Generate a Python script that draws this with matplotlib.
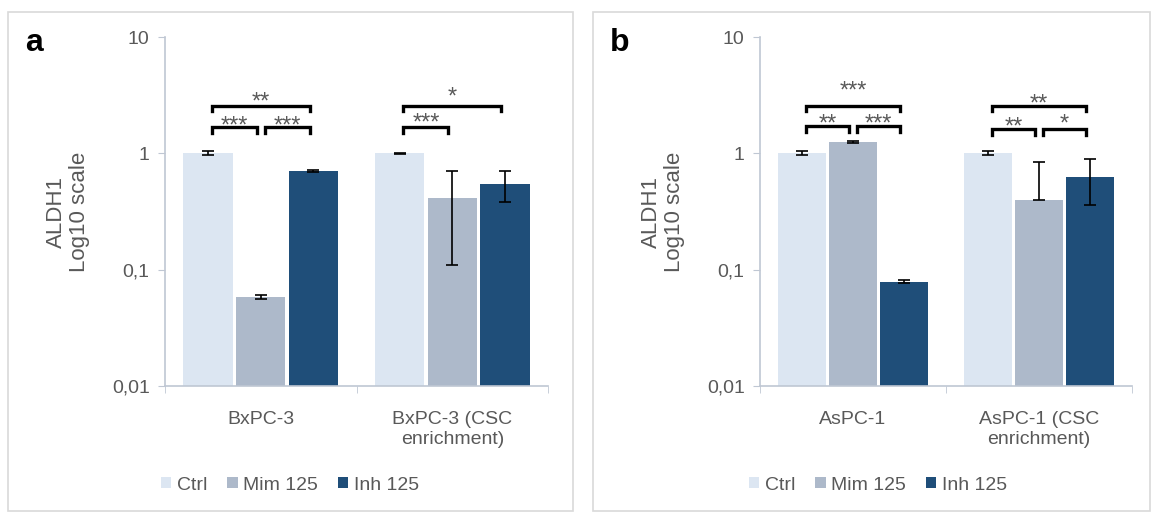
import numpy as np
import matplotlib
matplotlib.use("Agg")
import matplotlib.pyplot as plt
from matplotlib.patches import Patch, Rectangle
from matplotlib.ticker import NullLocator
from matplotlib.textpath import TextPath
from matplotlib.font_manager import FontProperties

plt.rcParams['font.family'] = ['Liberation Sans', 'DejaVu Sans']

# data
series = ["Ctrl", "Mim 125", "Inh 125"]
groups_a = ["BxPC-3", "BxPC-3 (CSC\nenrichment)"]
groups_b = ["AsPC-1", "AsPC-1 (CSC\nenrichment)"]

a_ctrl = [1.0, 1.0]
a_mim = [0.058, 0.41]
a_inh = [0.70, 0.54]
a_ctrl_err = [0.04, 0.005]
a_mim_err = [0.002, 0.30]
a_inh_err = [0.015, 0.16]

b_ctrl = [1.0, 1.0]
b_mim = [1.25, 0.40]
b_inh = [0.079, 0.63]
b_ctrl_err = [0.04, 0.04]
b_mim_err_lo = [0.02, 0.0]
b_mim_err_hi = [0.02, 0.45]
b_inh_err = [0.002, 0.27]

# significance: (group, bar i, bar j, label)
sig_a = [(0, 0, 1, "***"), (0, 1, 2, "***"), (0, 0, 2, "**"),
         (1, 0, 1, "***"), (1, 0, 2, "*")]
sig_b = [(0, 0, 1, "**"), (0, 1, 2, "***"), (0, 0, 2, "***"),
         (1, 0, 1, "**"), (1, 1, 2, "*"), (1, 0, 2, "**")]

# bracket layout (height in data units, star gap in px)
br_a_y = [1.70, 1.70, 2.54, 1.70, 2.54]
br_a_gap = [0, 0, 4, 3, 9]
br_b_y = [1.73, 1.73, 2.55, 1.62, 1.62, 2.54]
br_b_gap = [2, 2, 15, 2, 5, 2]

colors = ['#DCE6F2', '#ADB9CA', '#1F4E79']
txt = '#595959'
spine = '#BFC7D3'
W, H = 1153, 515
PX_DEC = 116.33  # px per decade
STAR_FS = 17

# where the asterisk glyph starts above the baseline, in em
star_ymin = TextPath((0, 0), "*", size=1,
                     prop=FontProperties(family='Liberation Sans')).get_extents().y0

fig = plt.figure(figsize=(W / 100, H / 100), dpi=100)

# panel frames
for x0, x1 in [(8, 573), (593, 1150)]:
    fig.patches.append(Rectangle((x0 / W, 1 - 511 / H), (x1 - x0) / W, (511 - 12) / H,
                                 transform=fig.transFigure, fill=False,
                                 edgecolor='#D9D9D9', linewidth=1.2))

pitch = 0.275
bw = 0.257
offs = [-pitch, 0, pitch]


def panel(ax, groups, vals, errs, sig, br_y, br_gap):
    x = np.arange(len(groups))
    for k in range(3):
        ax.bar(x + offs[k], vals[k], bw, color=colors[k], zorder=2)
        ax.errorbar(x + offs[k], vals[k], yerr=errs[k], fmt='none', ecolor='black',
                    elinewidth=1.2, capsize=4, capthick=1.2, zorder=3)
    ax.set_yscale('log')
    ax.set_ylim(0.01, 10)
    ax.set_xlim(-0.5, len(groups) - 0.5)
    ax.set_yticks([0.01, 0.1, 1, 10])
    ax.set_yticklabels(["0,01", "0,1", "1", "10"])
    ax.yaxis.set_minor_locator(NullLocator())
    ax.set_xticks(x)
    ax.set_xticklabels(groups, linespacing=1.25)
    ax.set_xticks(np.arange(len(groups) + 1) - 0.5, minor=True)
    ax.tick_params(axis='x', which='major', length=0, pad=18, labelsize=14, labelcolor=txt)
    ax.tick_params(axis='x', which='minor', length=5, color=spine, direction='out')
    ax.tick_params(axis='y', length=5, color=spine, labelsize=14, labelcolor=txt, pad=6)
    for s in ['top', 'right']:
        ax.spines[s].set_visible(False)
    for s in ['left', 'bottom']:
        ax.spines[s].set_color(spine)
        ax.spines[s].set_linewidth(1.2)
    ax.set_ylabel("ALDH1\nLog10 scale", fontsize=16, color=txt, labelpad=16, linespacing=1.1)

    star_px = STAR_FS / 0.72
    for (g, i, j, lab), yb, gap in zip(sig, br_y, br_gap):
        x0 = g + offs[i] + 0.02
        x1 = g + offs[j] - 0.02
        leg = 6 if i + 1 == j else 5
        yl = yb / 10 ** (leg / PX_DEC)
        ax.plot([x0, x0, x1, x1], [yl, yb, yb, yl], color='black', lw=2.4,
                solid_joinstyle='miter', zorder=4, clip_on=False)
        dy = gap + 1.5 - star_ymin * star_px
        ax.annotate(lab, xy=((x0 + x1) / 2, yb), xytext=(0, dy * 0.72),
                    textcoords='offset points', ha='center', va='baseline',
                    fontsize=STAR_FS, color=txt, zorder=5)


ax_a = fig.add_axes([165 / W, 1 - 386 / H, 383 / W, 349 / H])
panel(ax_a, groups_a, [a_ctrl, a_mim, a_inh], [a_ctrl_err, a_mim_err, a_inh_err],
      sig_a, br_a_y, br_a_gap)

ax_b = fig.add_axes([760 / W, 1 - 386 / H, 372 / W, 349 / H])
panel(ax_b, groups_b, [b_ctrl, b_mim, b_inh],
      [b_ctrl_err, [b_mim_err_lo, b_mim_err_hi], b_inh_err],
      sig_b, br_b_y, br_b_gap)

fig.text(25 / W, 1 - 43 / H, "a", fontsize=23, fontweight='bold', va='center', ha='left')
fig.text(610 / W, 1 - 43 / H, "b", fontsize=23, fontweight='bold', va='center', ha='left')

handles = [Patch(facecolor=c, edgecolor='none', label=s) for c, s in zip(colors, series)]
for xc in [290, 878]:
    leg = fig.legend(handles=handles, loc='center', bbox_to_anchor=(xc / W, 1 - 485 / H),
                     ncol=3, frameon=False, fontsize=14, handlelength=0.55,
                     handleheight=0.55, handletextpad=0.3, columnspacing=1.0)
    for t in leg.get_texts():
        t.set_color(txt)

fig.savefig("out.png", dpi=100)
